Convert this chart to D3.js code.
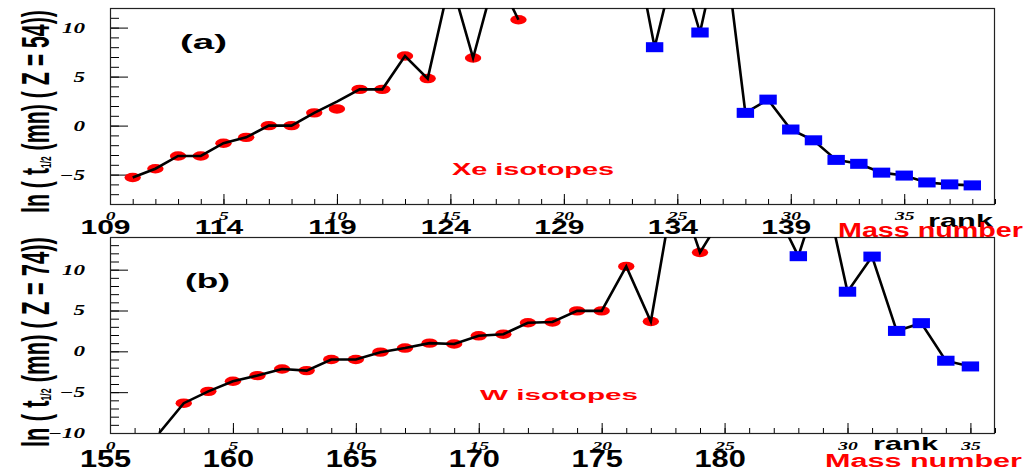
<!DOCTYPE html>
<html>
<head>
<meta charset="utf-8">
<script src="https://cdn.jsdelivr.net/npm/d3@7"></script>
<style>
  body { margin: 0; background: #fff; }
</style>
</head>
<body>
<div id="chart"></div>
<script>
// ---- panel (a): Xe isotopes, Z = 54 ----
const aRank = [1,2,3,4,5,6,7,8,9,10,11,12,13,14,15,16,17,18,19,20,21,22,23,24,25,26,27,28,29,30,31,32,33,34,35,36,37,38];
const aLine = [-5.3,-4.4,-3.1,-3.1,-1.8,-1.2,0.0,0.0,1.3,2.45,3.7,3.7,7.1,4.8,15,6.9,15.5,10.8,null,null,null,null,20,8.0,17.4,9.5,20,1.3,2.65,-0.4,-1.5,-3.5,-3.9,-4.8,-5.1,-5.8,-6.0,-6.1];
const aMarks = [-5.3,-4.4,-3.1,-3.1,-1.8,-1.2,0.0,0.0,1.3,1.7,3.7,3.7,7.1,4.8,15,6.9,15.5,10.8,null,null,null,null,20,8.0,17.4,9.5,20,1.3,2.65,-0.4,-1.5,-3.5,-3.9,-4.8,-5.1,-5.8,-6.0,-6.1];
const aFirstSquare = 24;
const aRankTicks = [0,5,10,15,20,25,30,35];
const aMassTicks = [109,114,119,124,129,134,139];
const aMassAtRank0 = 109;

// ---- panel (b): W isotopes, Z = 74 ----
const bRank = [2,3,4,5,6,7,8,9,10,11,12,13,14,15,16,17,18,19,20,21,22,23,24,25,26,27,28,29,30,31,32,33,34,35];
const bLine = [-10,-6.35,-4.9,-3.66,-2.97,-2.16,-2.36,-1.0,-1.0,-0.1,0.4,1.0,0.9,1.9,2.1,3.5,3.6,4.95,4.95,10.4,3.65,21,12.1,17,20,17.8,11.65,21,7.3,11.6,2.5,3.45,-1.15,-1.85];
const bMarks = [null,-6.35,-4.9,-3.66,-2.97,-2.16,-2.36,-1.0,-1.0,-0.1,0.4,1.0,0.9,1.9,2.1,3.5,3.6,4.95,4.95,10.4,3.65,21,12.1,17,20,17.8,11.65,21,7.3,11.6,2.5,3.45,-1.15,-1.85];
const bFirstSquare = 28;
const bRankTicks = [0,5,10,15,20,25,30,35];
const bMassTicks = [155,160,165,170,175,180];
const bMassAtRank0 = 155;

const SANS = "'Liberation Sans', Arial, sans-serif";
const SERIF = "'Liberation Serif', 'Times New Roman', serif";

const svg = d3.select('#chart').append('svg')
    .attr('width', 1029).attr('height', 473)
    .style('background', '#fff');

// widen text the way the original (stretched) picture shows it
function stretch(sel, k) {
    sel.each(function () {
        const L = this.getComputedTextLength();
        d3.select(this).attr('textLength', L * k).attr('lengthAdjust', 'spacingAndGlyphs');
    });
}

function label(g, txt, x, y, size, width, color) {
    g.append('text')
        .attr('x', x).attr('y', y)
        .attr('font-family', SANS).attr('font-weight', 'bold')
        .attr('font-size', size).attr('fill', color)
        .attr('textLength', width).attr('lengthAdjust', 'spacingAndGlyphs')
        .text(txt);
}

function yTitle(g, z, bx, yStart, len) {
    const t = g.append('text')
        .attr('font-family', SANS).attr('font-weight', 'bold')
        .attr('font-size', 38);
    t.append('tspan').text('ln ( t');
    t.append('tspan').attr('font-size', 15).attr('dy', 2).text('1/2');
    t.append('tspan').attr('dy', -2).text(' (mn) ( Z = ' + z + '))');
    const L = t.node().getComputedTextLength();
    t.attr('transform', `translate(${bx},${yStart}) rotate(-90) scale(${len / L},1)`);
}

function drawPanel(p) {
    const x = d3.scaleLinear().domain([0, p.xMax]).range([110, 995]);
    const y = d3.scaleLinear().domain(p.yDomain).range([p.bottom, p.top]);
    const g = svg.append('g');

    g.append('clipPath').attr('id', 'clip-' + p.id)
        .append('rect')
        .attr('x', 110).attr('y', p.top)
        .attr('width', 885).attr('height', p.bottom - p.top);

    // x minor ticks
    g.append('g').attr('transform', `translate(0,${p.bottom})`)
        .call(d3.axisBottom(x).tickValues(d3.range(0, p.xMax + 1)).tickSize(-5).tickFormat(''))
        .call(a => a.select('.domain').remove());
    // x major ticks + rank numbers
    const xr = g.append('g').attr('transform', `translate(0,${p.bottom})`)
        .call(d3.axisBottom(x).tickValues(p.rankTicks).tickSize(-10).tickPadding(p.rankPad).tickFormat(d3.format('d')))
        .call(a => a.select('.domain').remove());
    xr.selectAll('line').attr('stroke', '#000');
    xr.selectAll('text')
        .attr('font-family', SERIF).attr('font-style', 'italic').attr('font-weight', 'bold')
        .attr('font-size', 13).attr('fill', '#000')
        .call(stretch, 1.5);
    // mass number labels
    const xm = g.append('g').attr('transform', `translate(0,${p.bottom})`)
        .call(d3.axisBottom(x).tickValues(p.massTicks.map(m => m - p.mass0))
            .tickSize(0).tickPadding(p.massPad).tickFormat(r => r + p.mass0))
        .call(a => a.select('.domain').remove());
    xm.selectAll('text')
        .attr('font-family', SANS).attr('font-weight', 'bold')
        .attr('font-size', p.massSize).attr('fill', '#000').attr('dx', -5)
        .call(stretch, p.massStretch);

    // y minor ticks
    const yMin = Math.ceil(p.yDomain[0]), yMax = Math.floor(p.yDomain[1]);
    g.append('g').attr('transform', 'translate(110,0)')
        .call(d3.axisLeft(y).tickValues(d3.range(yMin, yMax + 1)).tickSize(-9).tickFormat(''))
        .call(a => a.select('.domain').remove());
    // y major ticks + labels
    const ya = g.append('g').attr('transform', 'translate(110,0)')
        .call(d3.axisLeft(y).tickValues(d3.range(Math.ceil(yMin / 5) * 5, yMax + 1, 5))
            .tickSize(-18).tickPadding(25).tickFormat(d3.format('d')))
        .call(a => a.select('.domain').remove());
    ya.selectAll('text')
        .attr('font-family', SERIF).attr('font-style', 'italic').attr('font-weight', 'bold')
        .attr('font-size', 14).attr('fill', '#000')
        .call(stretch, 1.65);

    // frame
    g.append('rect')
        .attr('x', 110.5).attr('y', p.top + 0.5)
        .attr('width', 884).attr('height', p.bottom - p.top)
        .attr('fill', 'none').attr('stroke', '#222').attr('stroke-width', 1.2);

    const pts = p.ranks.map((r, i) => ({ r: r, v: p.line[i], m: p.marks[i] }));
    const inside = d => d.m !== null && d.m > p.yDomain[0] && d.m < p.yDomain[1];
    const plot = g.append('g').attr('clip-path', `url(#clip-${p.id})`);

    plot.selectAll('ellipse')
        .data(pts.filter(d => inside(d) && d.r < p.firstSquare))
        .join('ellipse')
        .attr('cx', d => x(d.r)).attr('cy', d => y(d.m))
        .attr('rx', 8.2).attr('ry', 4.7)
        .attr('fill', '#ff0000');

    const line = d3.line()
        .defined(d => d.v !== null)
        .x(d => x(d.r)).y(d => y(d.v));
    plot.append('path')
        .datum(pts)
        .attr('d', line)
        .attr('fill', 'none').attr('stroke', '#000')
        .attr('stroke-width', 2.6).attr('stroke-linejoin', 'miter');

    plot.selectAll('rect.sq')
        .data(pts.filter(d => inside(d) && d.r >= p.firstSquare))
        .join('rect').attr('class', 'sq')
        .attr('x', d => x(d.r) - 8.7).attr('y', d => y(d.m) - 5)
        .attr('width', 17.4).attr('height', 10)
        .attr('fill', '#0000ff');

    // texts
    label(g, p.tag, p.tagX, p.tagY, p.tagSize, p.tagW, '#000');
    label(g, p.iso, p.isoX, p.isoY, p.isoSize, p.isoW, '#ff0000');
    label(g, 'rank', p.rankX, p.rankY, 19, 65, '#000');
    label(g, 'Mass number', p.mnX, p.mnY, p.mnSize, p.mnW, '#ff0000');
    yTitle(g, p.z, 49, p.titleStart, p.titleLen);
}

drawPanel({
    id: 'a', top: 8, bottom: 204, xMax: 39, yDomain: [-8, 12],
    ranks: aRank, line: aLine, marks: aMarks, firstSquare: aFirstSquare,
    rankTicks: aRankTicks, rankPad: 7,
    massTicks: aMassTicks, mass0: aMassAtRank0, massPad: 16, massSize: 20, massStretch: 1.5,
    tag: '(a)', tagX: 180, tagY: 49, tagSize: 21, tagW: 47,
    iso: 'Xe isotopes', isoX: 452, isoY: 175, isoSize: 16, isoW: 162,
    rankX: 928, rankY: 227, mnX: 838, mnY: 237, mnSize: 20, mnW: 185,
    z: 54, titleStart: 213, titleLen: 203
});

drawPanel({
    id: 'b', top: 237, bottom: 433, xMax: 36, yDomain: [-10, 14],
    ranks: bRank, line: bLine, marks: bMarks, firstSquare: bFirstSquare,
    rankTicks: bRankTicks, rankPad: 8,
    massTicks: bMassTicks, mass0: bMassAtRank0, massPad: 17, massSize: 24, massStretch: 1.28,
    tag: '(b)', tagX: 185, tagY: 288, tagSize: 20, tagW: 45,
    iso: 'W isotopes', isoX: 480, isoY: 400, isoSize: 15, isoW: 158,
    rankX: 873, rankY: 450, mnX: 825, mnY: 467, mnSize: 18, mnW: 197,
    z: 74, titleStart: 447, titleLen: 210
});
</script>
</body>
</html>
